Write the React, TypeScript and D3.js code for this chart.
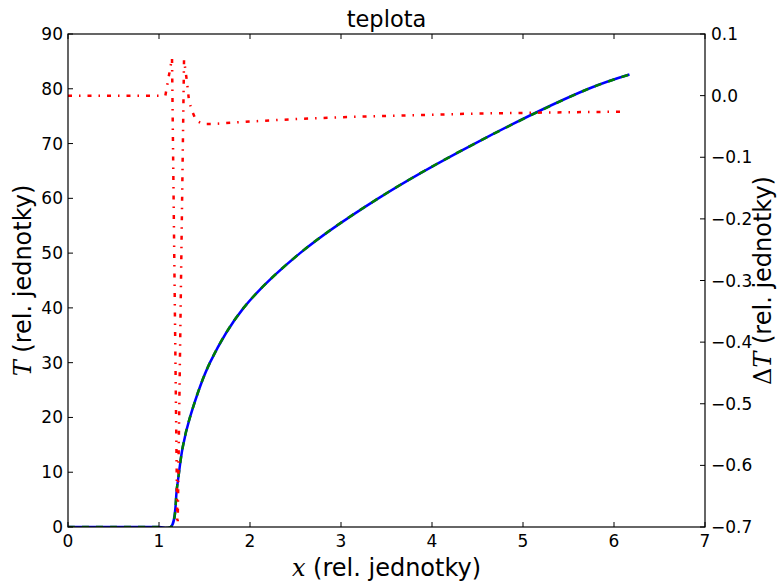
import React from "react";
import * as d3 from "d3";

const W = 778, H = 583;
const M = { left: 68, right: 705, top: 34, bottom: 527 };

const xTicks = [0, 1, 2, 3, 4, 5, 6, 7];
const yLeftTicks = [0, 10, 20, 30, 40, 50, 60, 70, 80, 90];
const yRightTicks = [0.1, 0.0, -0.1, -0.2, -0.3, -0.4, -0.5, -0.6, -0.7];

// T numeric (blue) and T analytic (green dashed)
const tX = [0, 0.5, 1.0, 1.13, 1.2, 1.26, 1.34, 1.56, 1.93, 2.55, 3.41, 4.47, 5.72, 6.17];
const tY = [0, 0, 0, 0, 7.5, 14.5, 20, 30, 40, 50, 60, 70, 80, 82.6];

// ΔT (red dash-dot), right axis
const dX = [0, 0.5, 1.0, 1.07, 1.143, 1.203, 1.275, 1.308, 1.33, 1.363, 1.407, 1.48, 1.59, 2.0, 2.5, 3.0, 3.5, 4.0, 4.5, 5.0, 5.5, 6.1];
const dY = [0, 0, 0, 0, 0.061, -0.72, 0.058, 0.022, -0.009, -0.025, -0.04, -0.046, -0.046, -0.042, -0.038, -0.035, -0.033, -0.031, -0.029, -0.028, -0.027, -0.026];

const fmtR = (v: number) => {
  const s = Math.abs(v).toFixed(1);
  return v < -1e-9 ? "\u2212" + s : s;
};

export default function App() {
  const x = d3.scaleLinear().domain([0, 7]).range([M.left, M.right]);
  const yL = d3.scaleLinear().domain([0, 90]).range([M.bottom, M.top]);
  const yR = d3.scaleLinear().domain([-0.7, 0.1]).range([M.bottom, M.top]);

  const tData = tX.map((v, i) => [v, tY[i]] as [number, number]);
  const dData = dX.map((v, i) => [v, dY[i]] as [number, number]);

  const lineT = d3.line<[number, number]>().x(d => x(d[0])).y(d => yL(d[1])).curve(d3.curveCatmullRom.alpha(0.5));
  const lineD = d3.line<[number, number]>().x(d => x(d[0])).y(d => yR(d[1]));

  const tick = 5;
  const font = "DejaVu Sans, sans-serif";
  const math = "DejaVu Serif, serif";
  const tf = 17;
  const lf = 24;

  return (
    <svg width={W} height={H} style={{ position: "absolute", left: 0, top: 0 }} xmlns="http://www.w3.org/2000/svg">
      <rect width={W} height={H} fill="white" />
      <defs>
        <clipPath id="plotclip">
          <rect x={M.left} y={M.top} width={M.right - M.left} height={M.bottom - M.top} />
        </clipPath>
      </defs>
      <g clipPath="url(#plotclip)">
        <path d={lineT(tData) || ""} fill="none" stroke="#0000ff" strokeWidth={2.5} />
        <path d={lineT(tData) || ""} fill="none" stroke="#007f00" strokeWidth={2.5} strokeDasharray="7,7" />
        <path d={lineD(dData) || ""} fill="none" stroke="#ff0000" strokeWidth={2.5} strokeDasharray="4,7,1.5,7" />
      </g>
      {/* frame */}
      <rect x={M.left} y={M.top} width={M.right - M.left} height={M.bottom - M.top} fill="none" stroke="black" strokeWidth={1.2} />
      {/* x ticks */}
      {xTicks.map(t => (
        <g key={"x" + t}>
          <line x1={x(t)} x2={x(t)} y1={M.bottom} y2={M.bottom - tick} stroke="black" />
          <line x1={x(t)} x2={x(t)} y1={M.top} y2={M.top + tick} stroke="black" />
          <text x={x(t)} y={M.bottom + 20} fontFamily={font} fontSize={tf} textAnchor="middle">{t}</text>
        </g>
      ))}
      {/* left ticks */}
      {yLeftTicks.map(t => (
        <g key={"l" + t}>
          <line x1={M.left} x2={M.left + tick} y1={yL(t)} y2={yL(t)} stroke="black" />
          <text x={M.left - 5} y={yL(t) + 6} fontFamily={font} fontSize={tf} textAnchor="end">{t}</text>
        </g>
      ))}
      {/* right ticks */}
      {yRightTicks.map(t => (
        <g key={"r" + t}>
          <line x1={M.right} x2={M.right - tick} y1={yR(t)} y2={yR(t)} stroke="black" />
          <text x={M.right + 6} y={yR(t) + 6} fontFamily={font} fontSize={tf} textAnchor="start">{fmtR(t)}</text>
        </g>
      ))}
      {/* title */}
      <text x={(M.left + M.right) / 2} y={27} fontFamily={font} fontSize={22.5} textAnchor="middle">teplota</text>
      {/* x label */}
      <text x={(M.left + M.right) / 2} y={576} fontFamily={font} fontSize={lf} textAnchor="middle">
        <tspan fontFamily={math} fontStyle="italic">x</tspan> (rel. jednotky)
      </text>
      {/* left label */}
      <text transform={`translate(31,${(M.top + M.bottom) / 2}) rotate(-90)`} fontFamily={font} fontSize={lf} textAnchor="middle">
        <tspan fontFamily={math} fontStyle="italic">T</tspan> (rel. jednotky)
      </text>
      {/* right label */}
      <text transform={`translate(771,${(M.top + M.bottom) / 2}) rotate(-90)`} fontFamily={font} fontSize={lf} textAnchor="middle">
        <tspan fontFamily={math}>Δ</tspan><tspan fontFamily={math} fontStyle="italic">T</tspan> (rel. jednotky)
      </text>
    </svg>
  );
}
